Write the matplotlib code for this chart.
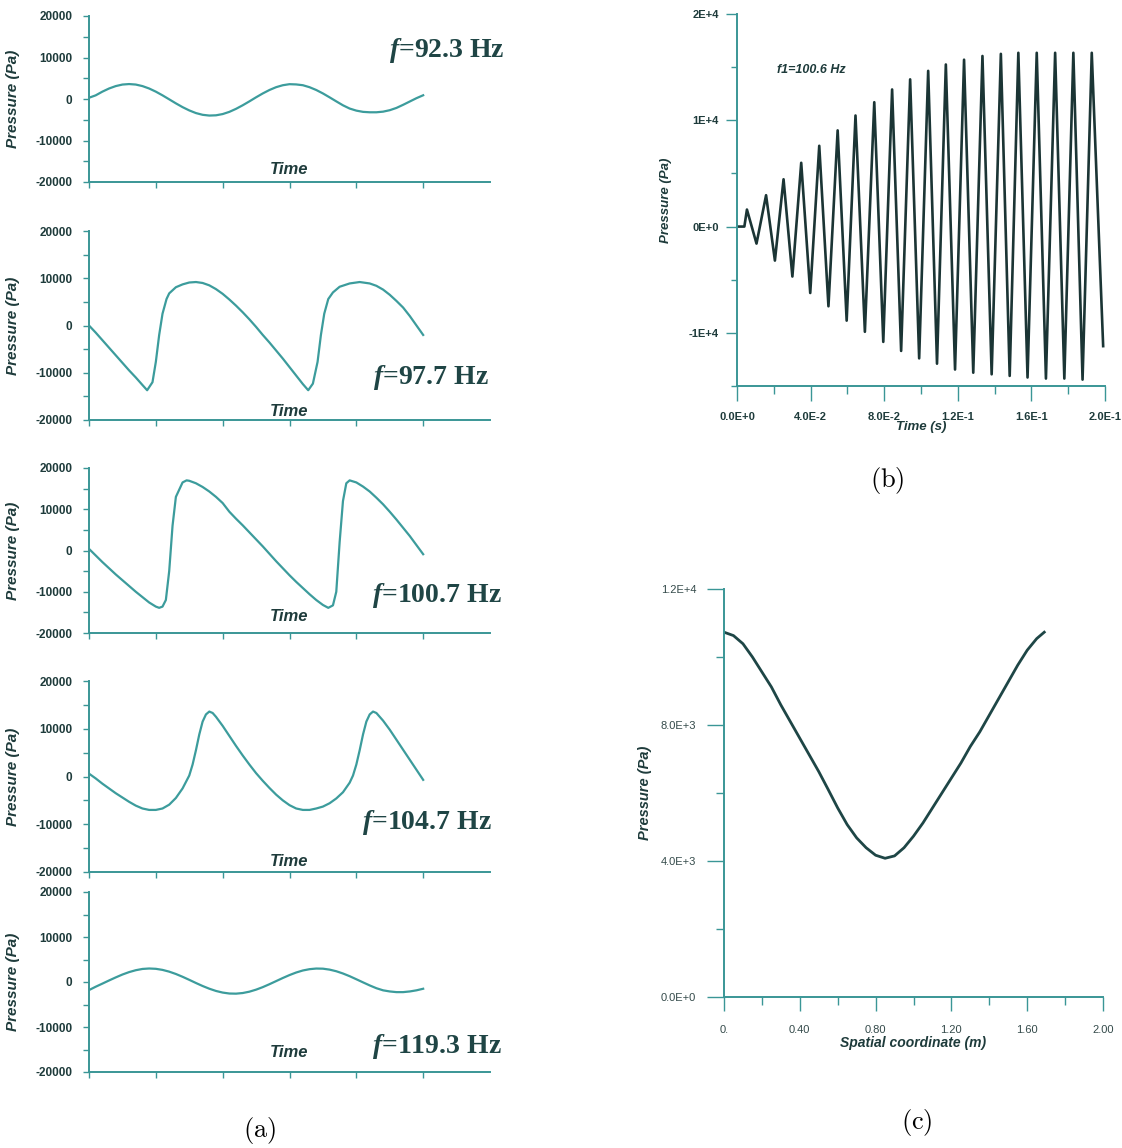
import matplotlib
matplotlib.use('Agg')
import matplotlib.pyplot as plt
from matplotlib.ticker import MultipleLocator

plt.rcParams['font.family'] = 'Liberation Sans'
plt.rcParams['mathtext.fontset'] = 'custom'
plt.rcParams['mathtext.it'] = 'Liberation Serif:italic:bold'
plt.rcParams['mathtext.rm'] = 'Liberation Serif:bold'

# ---- panel (a): pressure vs time at five driving frequencies ----
freq_labels = ['$f$=92.3 Hz', '$f$=97.7 Hz', '$f$=100.7 Hz', '$f$=104.7 Hz', '$f$=119.3 Hz']

t_reg = [0.0, 0.1, 0.2, 0.3, 0.4, 0.5, 0.6, 0.7, 0.8, 0.9, 1.0, 1.1, 1.2, 1.3, 1.4, 1.5, 1.6,
         1.7, 1.8, 1.9, 2.0, 2.1, 2.2, 2.3, 2.4, 2.5, 2.6, 2.7, 2.8, 2.9, 3.0, 3.1, 3.2, 3.3,
         3.4, 3.5, 3.6, 3.7, 3.8, 3.9, 4.0, 4.1, 4.2, 4.3, 4.4, 4.5, 4.6, 4.7, 4.8, 4.9, 5.0]

p_923 = [300, 880, 1770, 2530, 3110, 3480, 3600, 3480, 3110, 2530, 1770, 880, -80, -1050,
         -1960, -2750, -3390, -3810, -3990, -3930, -3630, -3100, -2370, -1510, -570, 410,
         1340, 2170, 2850, 3320, 3570, 3510, 3320, 2840, 2170, 1340, 400, -570, -1520, -2300,
         -2800, -3100, -3200, -3200, -3050, -2700, -2150, -1400, -600, 200, 900]

t_977 = [0.0, 0.1, 0.2, 0.3, 0.4, 0.5, 0.6, 0.7, 0.8, 0.87, 0.95, 1.0, 1.05, 1.1, 1.16, 1.2,
         1.3, 1.4, 1.5, 1.6, 1.7, 1.8, 1.9, 2.0, 2.1, 2.2, 2.3, 2.4, 2.5, 2.6, 2.7, 2.8, 2.9,
         3.0, 3.1, 3.2, 3.28, 3.35, 3.42, 3.47, 3.52, 3.58, 3.65, 3.75, 3.9, 4.05, 4.2, 4.3,
         4.4, 4.5, 4.6, 4.7, 4.8, 4.9, 5.0]
p_977 = [0, -1500, -3100, -4700, -6300, -7900, -9500, -11000, -12600, -13700, -12000, -7700,
         -2000, 2500, 5600, 6800, 8100, 8700, 9100, 9200, 9000, 8500, 7700, 6700, 5500, 4200,
         2800, 1300, -300, -2000, -3600, -5300, -7000, -8800, -10600, -12400, -13700, -12300,
         -7700, -2000, 2500, 5600, 7000, 8200, 8900, 9200, 8900, 8400, 7600, 6500, 5200, 3800,
         2000, 0, -2000]

t_1007 = [0.0, 0.1, 0.2, 0.3, 0.4, 0.5, 0.6, 0.7, 0.8, 0.9, 1.0, 1.05, 1.1, 1.15, 1.2, 1.25,
          1.3, 1.4, 1.46, 1.5, 1.6, 1.7, 1.8, 1.9, 2.0, 2.1, 2.2, 2.3, 2.4, 2.5, 2.6, 2.7, 2.8,
          2.9, 3.0, 3.1, 3.2, 3.3, 3.4, 3.5, 3.58, 3.65, 3.7, 3.75, 3.8, 3.85, 3.9, 4.0, 4.1,
          4.2, 4.3, 4.4, 4.5, 4.6, 4.7, 4.8, 4.9, 5.0]
p_1007 = [400, -1200, -2800, -4300, -5800, -7200, -8600, -10000, -11300, -12600, -13600,
          -13900, -13600, -12000, -5000, 6000, 13000, 16500, 17000, 16900, 16300, 15400, 14300,
          13000, 11500, 9400, 7700, 6100, 4400, 2700, 1000, -800, -2600, -4300, -6000, -7600,
          -9100, -10600, -12000, -13200, -13900, -13300, -10000, 2000, 12000, 16300, 17000,
          16500, 15500, 14300, 12800, 11200, 9400, 7500, 5500, 3500, 1300, -900]

t_1047 = [0.0, 0.1, 0.2, 0.3, 0.4, 0.5, 0.6, 0.7, 0.8, 0.9, 1.0, 1.1, 1.2, 1.3, 1.4, 1.5,
          1.55, 1.6, 1.65, 1.7, 1.75, 1.8, 1.85, 1.9, 2.0, 2.1, 2.2, 2.3, 2.4, 2.5, 2.6, 2.7,
          2.8, 2.9, 3.0, 3.1, 3.2, 3.3, 3.4, 3.5, 3.6, 3.7, 3.8, 3.9, 3.95, 4.0, 4.05, 4.1,
          4.15, 4.2, 4.25, 4.3, 4.4, 4.5, 4.6, 4.7, 4.8, 4.9, 5.0]
p_1047 = [600, -400, -1500, -2500, -3500, -4400, -5300, -6100, -6700, -7000, -7000, -6700,
          -5900, -4500, -2500, 200, 2500, 5500, 8800, 11500, 13000, 13600, 13300, 12500, 10600,
          8500, 6400, 4400, 2500, 700, -900, -2400, -3800, -5000, -6000, -6700, -7000, -7000,
          -6700, -6300, -5600, -4600, -3300, -1300, 200, 2500, 5500, 8800, 11500, 13000, 13600,
          13300, 11700, 9800, 7700, 5600, 3500, 1400, -700]

p_1193 = [-1800, -1050, -360, 340, 1020, 1660, 2200, 2620, 2900, 3000, 2930, 2690, 2300, 1780,
          1160, 480, -220, -890, -1490, -1990, -2350, -2560, -2590, -2450, -2150, -1700, -1140,
          -490, 200, 890, 1540, 2110, 2560, 2850, 2990, 2960, 2750, 2390, 1890, 1290, 610, -80,
          -760, -1380, -1850, -2100, -2250, -2250, -2100, -1850, -1500]

series_a = [(t_reg, p_923), (t_977, p_977), (t_1007, p_1007), (t_1047, p_1047), (t_reg, p_1193)]

# ---- panel (b): pressure build-up, f1 = 100.6 Hz ----
b_time = [0.0, 0.0040, 0.0054, 0.0106, 0.0158, 0.0206, 0.0253, 0.0301, 0.0349, 0.0398, 0.0447,
          0.0497, 0.0547, 0.0596, 0.0644, 0.0695, 0.0746, 0.0795, 0.0843, 0.0892, 0.0941, 0.0990,
          0.1039, 0.1087, 0.1135, 0.1185, 0.1234, 0.1284, 0.1334, 0.1384, 0.1434, 0.1482, 0.1529,
          0.1579, 0.1629, 0.1679, 0.1729, 0.1779, 0.1828, 0.1878, 0.1928, 0.1990]
b_pressure = [0, 0, 1600, -1600, 2950, -3200, 4450, -4700, 6000, -6250, 7600, -7500, 9050,
              -8850, 10450, -9900, 11700, -10850, 12900, -11700, 13850, -12400, 14650, -12900,
              15250, -13450, 15700, -13750, 16050, -13900, 16250, -14050, 16350, -14200, 16350,
              -14300, 16350, -14300, 16350, -14400, 16350, -11250]

# ---- panel (c): pressure along the duct ----
c_x = [0.0, 0.05, 0.1, 0.15, 0.2, 0.25, 0.3, 0.35, 0.4, 0.45, 0.5, 0.55, 0.6, 0.65, 0.7, 0.75,
       0.8, 0.85, 0.9, 0.95, 1.0, 1.05, 1.1, 1.15, 1.2, 1.25, 1.3, 1.35, 1.4, 1.45, 1.5, 1.55,
       1.6, 1.65, 1.69]
c_pressure = [10730, 10630, 10390, 10000, 9560, 9120, 8590, 8100, 7610, 7120, 6630, 6100, 5560,
              5070, 4680, 4390, 4170, 4080, 4150, 4390, 4730, 5120, 5560, 6000, 6440, 6880,
              7370, 7800, 8290, 8780, 9270, 9760, 10200, 10540, 10730]

AXC = '#3a9696'
TXT = '#1e3b3b'
W, H = 1122, 1148


def box(x0, y0, x1, y1):
    return [x0 / W, 1 - y1 / H, (x1 - x0) / W, (y1 - y0) / H]


def style(ax):
    for s in ('top', 'right'):
        ax.spines[s].set_visible(False)
    for s in ('left', 'bottom'):
        ax.spines[s].set_color(AXC)
        ax.spines[s].set_linewidth(1.4)


fig = plt.figure(figsize=(W / 100, H / 100), dpi=100)

# left column layout (pixel boxes), label spots
a_boxes = [(89, 16, 490, 182), (89, 231, 490, 420), (89, 468, 490, 633),
           (89, 681, 490, 872), (89, 892, 490, 1072)]
time_y = [-17100, -18300, -16100, -17900, -15600]
freq_pos = [(1.035, 11800), (0.998, -10900), (1.03, -10800), (1.005, -9700), (1.03, -14400)]

for i, (t, p) in enumerate(series_a):
    ax = fig.add_axes(box(*a_boxes[i]))
    style(ax)
    ax.plot(t, p, color='#3c9c9c', lw=1.6)
    ax.set_xlim(0, 6)
    ax.set_ylim(-20000, 20000)
    ax.set_xticks([0, 1, 2, 3, 4, 5], [])
    ax.set_yticks([-20000, -10000, 0, 10000, 20000],
                  ['-20000', '-10000', '0', '10000', '20000'], fontweight='bold')
    ax.yaxis.set_minor_locator(MultipleLocator(5000))
    ax.tick_params(axis='both', which='both', direction='out', length=4, width=1,
                   color=AXC, labelsize=8.5, labelcolor=TXT, pad=8)
    ax.set_ylabel('Pressure (Pa)', fontsize=11, fontweight='bold', fontstyle='italic', color=TXT)
    ax.yaxis.set_label_coords(-0.172, 0.5)
    ax.text(3.0, time_y[i], 'Time', ha='center', va='center', fontsize=12,
            fontweight='bold', fontstyle='italic', color=TXT)
    fx, fy = freq_pos[i]
    ax.text(fx, fy, freq_labels[i], transform=ax.get_yaxis_transform(), ha='right',
            va='center', fontsize=20, family='Liberation Serif', fontweight='bold',
            color='#1f4545', clip_on=False)

# panel (b)
axb = fig.add_axes(box(737, 14, 1105, 386))
style(axb)
axb.plot(b_time, b_pressure, color='#1b3535', lw=1.9, solid_joinstyle='round')
axb.set_xlim(0, 0.2)
axb.set_ylim(-15000, 20000)
axb.set_xticks([0, 0.04, 0.08, 0.12, 0.16, 0.2],
               ['0.0E+0', '4.0E-2', '8.0E-2', '1.2E-1', '1.6E-1', '2.0E-1'], fontweight='bold')
axb.xaxis.set_minor_locator(MultipleLocator(0.02))
axb.set_yticks([-10000, 0, 10000, 20000], ['-1E+4', '0E+0', '1E+4', '2E+4'], fontweight='bold')
axb.yaxis.set_minor_locator(MultipleLocator(5000))
axb.tick_params(axis='both', which='both', direction='out', color=AXC, width=1,
                labelsize=8, labelcolor=TXT)
axb.tick_params(axis='x', which='major', length=11, pad=8)
axb.tick_params(axis='x', which='minor', length=6)
axb.tick_params(axis='y', which='major', length=8, pad=5)
axb.tick_params(axis='y', which='minor', length=4)
axb.text(0.0217, 14700, 'f1=100.6 Hz', ha='left', va='center', fontsize=9,
         fontweight='bold', fontstyle='italic', color=TXT)
axb.set_ylabel('Pressure (Pa)', fontsize=9.5, fontweight='bold', fontstyle='italic', color=TXT)
axb.yaxis.set_label_coords(-0.177, 0.5)
axb.set_xlabel('Time (s)', fontsize=9.5, fontweight='bold', fontstyle='italic', color=TXT)
axb.xaxis.set_label_coords(0.5, -0.094)

# panel (c)
axc = fig.add_axes(box(724, 589, 1103, 997))
style(axc)
axc.plot(c_x, c_pressure, color='#1e4646', lw=2.0)
axc.set_xlim(0, 2.0)
axc.set_ylim(0, 12000)
axc.set_xticks([0, 0.4, 0.8, 1.2, 1.6, 2.0], ['0.', '0.40', '0.80', '1.20', '1.60', '2.00'])
axc.xaxis.set_minor_locator(MultipleLocator(0.2))
axc.set_yticks([0, 4000, 8000, 12000], ['0.0E+0', '4.0E+3', '8.0E+3', '1.2E+4'])
axc.yaxis.set_minor_locator(MultipleLocator(2000))
axc.tick_params(axis='both', which='both', direction='out', color=AXC, width=1,
                labelsize=8, labelcolor='#344a4a')
axc.tick_params(axis='x', which='major', length=10, pad=10)
axc.tick_params(axis='x', which='minor', length=6)
axc.tick_params(axis='y', which='major', length=12, pad=8)
axc.tick_params(axis='y', which='minor', length=6)
axc.set_ylabel('Pressure (Pa)', fontsize=10.5, fontweight='bold', fontstyle='italic', color=TXT)
axc.yaxis.set_label_coords(-0.19, 0.5)
axc.set_xlabel('Spatial coordinate (m)', fontsize=10, fontweight='bold', fontstyle='italic',
               color=TXT)
axc.xaxis.set_label_coords(0.5, -0.096)

# captions
for lab, x, y in [('(a)', 260, 1130), ('(b)', 887, 480), ('(c)', 917, 1123)]:
    fig.text(x / W, 1 - y / H, r'$\mathrm{' + lab + '}$', math_fontfamily='cm',
             ha='center', va='center', fontsize=19, color='black')

fig.savefig('out.png', dpi=100)
